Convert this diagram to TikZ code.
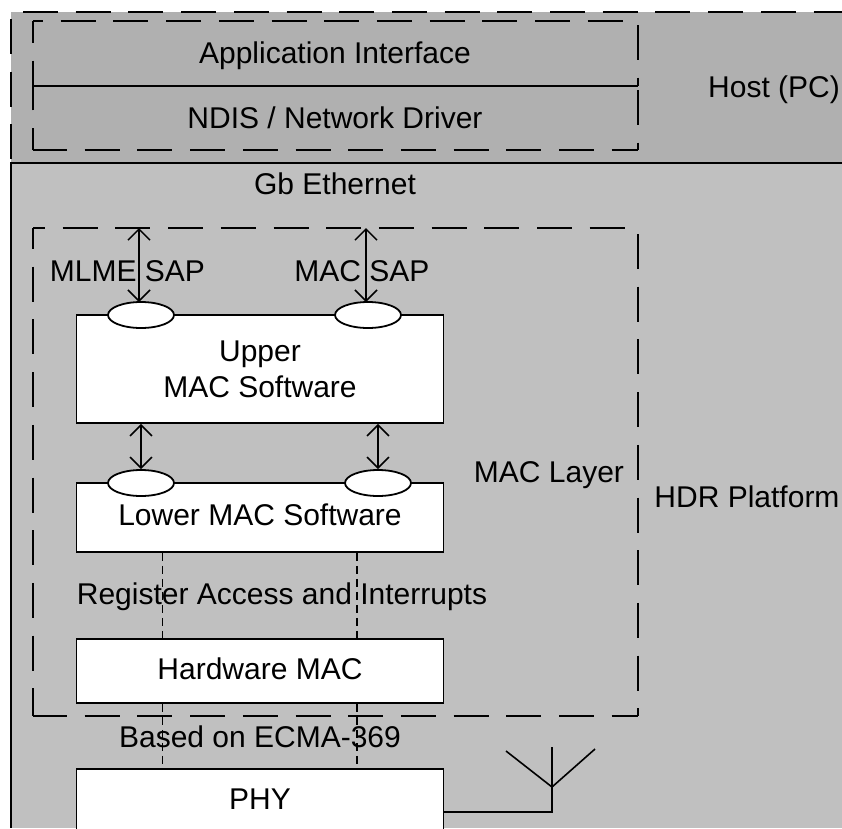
\documentclass[tikz,border=0pt]{standalone}
\usepackage{fontspec}
\setmainfont{Liberation Sans}
\usepackage{xcolor}
\usetikzlibrary{arrows.meta}
\usetikzlibrary{shapes.geometric}
\definecolor{hostgray}{HTML}{B0B0B0}
\definecolor{platformgray}{HTML}{C0C0C0}
\tikzset{
  textline/.style = {inner sep=0pt, text height=22pt, text depth=6pt},
  blockbox/.style = {draw, fill=white, line width=1.8pt, inner sep=0pt, minimum width=367pt, align=center},
  sapport/.style = {ellipse, draw, fill=white, line width=1.8pt, inner sep=0pt, minimum width=66pt, minimum height=26pt},
  longdash/.style = {line width=1.7pt, dash pattern=on 35pt off 17.7pt, dash phase=#1},
  regdash/.style = {line width=1.5pt, dash pattern=on 8pt off 5pt},
  sapflow/.style = {line width=1.5pt, {Straight Barb[length=11pt,width=22pt]}-{Straight Barb[length=11pt,width=22pt]}}
}

\begin{document}
\begin{tikzpicture}[x=1pt,y=-1pt,font=\fontsize{30}{36}\selectfont]

\clip (0,0) rectangle (842,828);

% -- Host and platform bands
\fill[hostgray] (11,12) rectangle (842,163);
\fill[platformgray] (11,163) rectangle (842,828);

\coordinate (HA) at (11,12);
\coordinate (HB) at (842,12);
\coordinate (HC) at (11,163);
\coordinate (HD) at (842,163);
\coordinate (HE) at (11,828);

\draw[longdash=40.7pt] (HA) -- (HB);
\draw[longdash=45.7pt] (HA) -- (HC);
\draw[line width=1.8pt] (HD) -- (HC) -- (HE);

% -- dashed group round the host stack
\coordinate (PA) at (33,21);
\coordinate (PB) at (638,21);
\coordinate (PC) at (33,86);
\coordinate (PD) at (638,86);
\coordinate (PE) at (33,150);
\coordinate (PF) at (638,150);

\foreach \a/\b/\p in {PA/PB/25, PB/PD/48.7, PA/PC/13, PE/PC/13, PD/PF/48.7, PE/PF/1} {
  \draw[longdash=\p pt] (\a) -- (\b);
}
\draw[line width=1.8pt] (PC) -- (PD);

% -- dashed group round the MAC layer
\coordinate (MA) at (33,228);
\coordinate (MB) at (638,228);
\coordinate (MC) at (33,716);
\coordinate (MD) at (638,716);

\foreach \a/\b/\p in {MA/MB/23, MB/MD/46.7, MA/MC/14, MC/MD/1} {
  \draw[longdash=\p pt] (\a) -- (\b);
}

% -- labels
\draw (335,55) node[textline] (appif) {Application Interface};
\draw (335,120) node[textline] (ndis) {NDIS / Network Driver};
\draw (774,89) node[textline] (host) {Host (PC)};
\draw (335,186) node[textline] (gbe) {Gb Ethernet};
\draw (127.5,273) node[textline] (mlmesap) {MLME SAP};
\draw (362,273) node[textline] (macsap) {MAC SAP};
\draw (549,474) node[textline] (maclayer) {MAC Layer};
\draw (747,499) node[textline] (hdr) {HDR Platform};
\draw (282,596) node[textline] (regacc) {Register Access and Interrupts};
\draw (260,739) node[textline] (ecma) {Based on ECMA-369};

% -- blocks
\draw (260,369) node[blockbox, minimum height=108pt] (upper) {Upper\\MAC Software};
\draw (260,517.5) node[blockbox, textline, minimum height=69pt] (lower) {Lower MAC Software};
\draw (260,671) node[blockbox, textline, minimum height=64pt] (hwmac) {Hardware MAC};
\draw (260,801) node[blockbox, textline, minimum height=64pt] (phy) {PHY};

% -- SAP ports
\draw (141,315) node[sapport] (upA) {};
\draw (368,315) node[sapport] (upB) {};
\draw (141,483) node[sapport] (lowA) {};
\draw (378,483) node[sapport] (lowB) {};

% -- arrows
\coordinate (mlmetop) at (139,228);
\coordinate (mlmeend) at (139,302);
\coordinate (mactop) at (366,228);
\coordinate (macend) at (366,302);
\draw[sapflow] (mlmetop) -- (mlmeend);
\draw[sapflow] (mactop) -- (macend);
\draw[sapflow] (lowA.north |- upper.south) -- (lowA.north);
\draw[sapflow] (lowB.north |- upper.south) -- (lowB.north);

% -- register lines
\foreach \x in {162.5,357} {
  \draw[regdash] (\x,0 |- lower.south) -- (\x,0 |- hwmac.north);
  \draw[regdash] (\x,0 |- hwmac.south) -- (\x,0 |- phy.north);
}

% -- antenna
\coordinate (antfoot) at (552,812);
\coordinate (antroot) at (552,787);
\coordinate (anttop) at (552,747);
\coordinate (antleft) at (506,751);
\coordinate (antright) at (595,749);
\draw[line width=1.8pt] (phy.east |- antfoot) -- (antfoot) -- (anttop);
\draw[line width=1.6pt] (antleft) -- (antroot) -- (antright);

\end{tikzpicture}
\end{document}
